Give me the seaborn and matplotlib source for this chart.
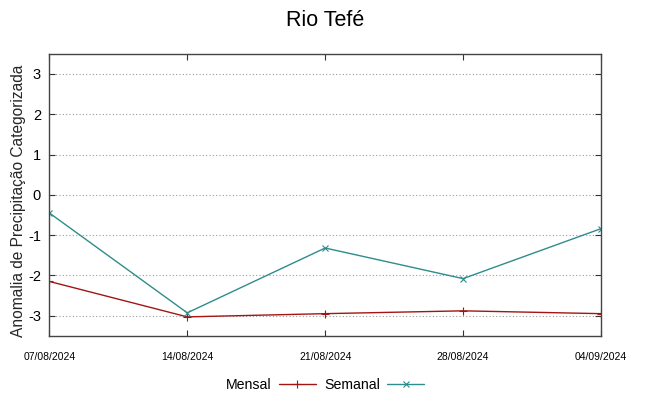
import pandas as pd
import matplotlib.pyplot as plt
import matplotlib.dates as mdates
import seaborn as sns

sns.set_style('white')
plt.rcParams['font.family'] = ['Liberation Sans', 'DejaVu Sans']
plt.rcParams['axes.unicode_minus'] = False
plt.rcParams['text.color'] = 'black'
plt.rcParams['xtick.color'] = '#333333'
plt.rcParams['ytick.color'] = '#333333'
plt.rcParams['xtick.labelcolor'] = 'black'
plt.rcParams['ytick.labelcolor'] = 'black'

# data
datas = ['07/08/2024', '14/08/2024', '21/08/2024', '28/08/2024', '04/09/2024']
mensal = [-2.15, -3.03, -2.95, -2.88, -2.95]
semanal = [-0.45, -2.93, -1.32, -2.08, -0.84]

df = pd.DataFrame({'data': pd.to_datetime(datas, format='%d/%m/%Y'),
                   'Mensal': mensal, 'Semanal': semanal})

fig, ax = plt.subplots(figsize=(6.49, 3.96), dpi=100)
fig.subplots_adjust(left=0.076, right=0.926, top=0.864, bottom=0.152)

sns.lineplot(data=df, x='data', y='Mensal', ax=ax, color='#a31515', lw=1,
             marker='+', markersize=6, mew=0.8, mec='#a31515', label='Mensal')
sns.lineplot(data=df, x='data', y='Semanal', ax=ax, color='#2f8c8c', lw=1,
             marker='x', markersize=5, mew=0.8, mec='#2f8c8c', label='Semanal')

ax.set_ylim(-3.5, 3.5)
ax.set_xlim(df['data'].iloc[0], df['data'].iloc[-1])
ax.set_yticks([-3, -2, -1, 0, 1, 2, 3])
ax.set_xticks(df['data'])
ax.xaxis.set_major_formatter(mdates.DateFormatter('%d/%m/%Y'))
ax.tick_params(axis='x', labelsize=7.5, direction='in', length=4, top=True, bottom=True, pad=12)
ax.tick_params(axis='y', labelsize=10.5, direction='in', length=4, left=True, right=True, pad=6)
ax.yaxis.grid(True, linestyle=(0, (1, 2)), color='#999999', lw=0.8)
for s in ax.spines.values():
    s.set_color('#444444')
    s.set_linewidth(1)

ax.set_xlabel('')
ax.set_ylabel('Anomalia de Precipitação Categorizada', fontsize=11.2, labelpad=0)
ax.yaxis.set_label_coords(-0.043, 0.48)
ax.set_title('Rio Tefé', fontsize=15.5, pad=20)

ax.legend(loc='upper center', bbox_to_anchor=(0.5, -0.105), ncol=2, frameon=False,
          markerfirst=False, fontsize=10.2, handlelength=2.6, columnspacing=0.6,
          handletextpad=0.5)

fig.savefig('out.png', dpi=100)
